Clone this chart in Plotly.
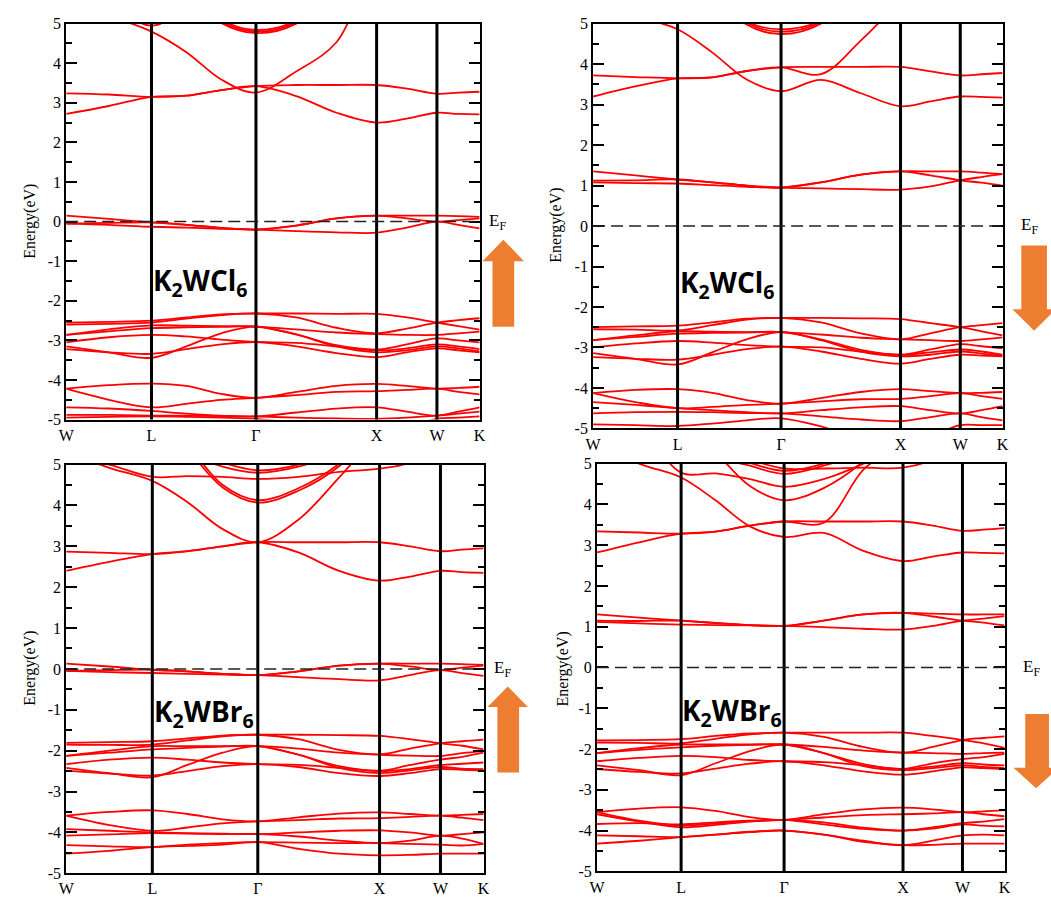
import plotly.graph_objects as go

FIG_W, FIG_H = 1051, 897

# ---------------- data ----------------
# k-path samples: W, mid, L, 1/3, 2/3, Γ, 1/3, 2/3, X, mid, W, mid, K
K_PATH = [0.0, 0.354, 0.707, 0.996, 1.285, 1.573, 1.906, 2.240, 2.573, 2.823, 3.073, 3.250, 3.427]
SYM_K = [0.0, 0.707, 1.573, 2.573, 3.073, 3.427]
SYM_LABELS = ["W", "L", "Γ", "X", "W", "K"]
Y_TICKS = [-5, -4, -3, -2, -1, 0, 1, 2, 3, 4, 5]
Y_TICK_TEXT = ["-5", "-4", "-3", "-2", "-1", "0", "1", "2", "3", "4", "5"]
COMPOUNDS = ["K<sub>2</sub>WCl<sub>6</sub>", "K<sub>2</sub>WCl<sub>6</sub>",
             "K<sub>2</sub>WBr<sub>6</sub>", "K<sub>2</sub>WBr<sub>6</sub>"]

# ---- K2WCl6 spin up ----
CL_UP_COND = [
    [3.24, 3.21, 3.15, 3.18, 3.32, 3.42, 3.45, 3.45, 3.45, 3.36, 3.23, 3.26, 3.28],
    [2.72, 2.92, 3.15, 3.18, 3.32, 3.42, 3.17, 2.75, 2.50, 2.60, 2.75, 2.72, 2.71],
    [5.60, 5.20, 4.80, 4.28, 3.59, 3.26, 3.79, 4.53, 6.50, 7.00, 7.00, 7.00, 7.00],
    [7.00, 7.00, 6.50, 5.80, 5.02, 4.76, 5.00, 5.90, 6.80, 7.00, 7.00, 7.00, 7.00],
    [7.00, 7.00, 6.50, 5.85, 5.06, 4.80, 5.04, 5.95, 6.80, 7.00, 7.00, 7.00, 7.00],
    [7.00, 7.00, 6.50, 5.90, 5.10, 4.84, 5.08, 6.00, 6.80, 7.00, 7.00, 7.00, 7.00],
    [6.00, 5.50, 4.95, 5.40, 6.00, 6.50, 7.00, 7.00, 7.00, 7.00, 7.00, 7.00, 7.00],
]
CL_UP_FERMI = [
    [0.15, 0.07, -0.02, -0.08, -0.16, -0.20, -0.10, 0.08, 0.15, 0.15, 0.15, 0.14, 0.12],
    [-0.05, -0.03, -0.02, -0.08, -0.16, -0.20, -0.10, 0.08, 0.15, 0.08, 0.00, 0.04, 0.08],
    [-0.05, -0.08, -0.13, -0.15, -0.18, -0.20, -0.24, -0.27, -0.28, -0.15, 0.00, -0.08, -0.17],
]
CL_UP_VAL = [
    [-2.55, -2.53, -2.50, -2.42, -2.34, -2.32, -2.32, -2.33, -2.33, -2.42, -2.55, -2.64, -2.73],
    [-2.60, -2.58, -2.55, -2.45, -2.36, -2.32, -2.42, -2.68, -2.82, -2.70, -2.55, -2.49, -2.44],
    [-2.86, -2.72, -2.62, -2.63, -2.64, -2.65, -2.72, -2.80, -2.84, -2.86, -2.86, -2.82, -2.78],
    [-2.86, -2.77, -2.69, -2.67, -2.66, -2.65, -2.85, -3.12, -3.23, -3.10, -2.95, -3.00, -3.05],
    [-3.05, -2.92, -2.86, -2.90, -2.98, -3.04, -3.06, -3.15, -3.25, -3.20, -3.10, -3.15, -3.22],
    [-3.15, -3.30, -3.44, -3.15, -2.82, -2.65, -2.85, -3.15, -3.30, -3.25, -3.15, -3.20, -3.28],
    [-3.22, -3.30, -3.34, -3.22, -3.10, -3.04, -3.15, -3.32, -3.42, -3.30, -3.20, -3.25, -3.30],
]
CL_UP_LOW = [
    [-4.22, -4.13, -4.09, -4.15, -4.35, -4.45, -4.30, -4.15, -4.10, -4.15, -4.22, -4.20, -4.17],
    [-4.22, -4.50, -4.69, -4.60, -4.50, -4.45, -4.38, -4.30, -4.28, -4.25, -4.22, -4.30, -4.36],
    [-4.69, -4.72, -4.78, -4.85, -4.90, -4.92, -4.82, -4.72, -4.69, -4.80, -4.90, -4.80, -4.69],
    [-4.88, -4.88, -4.90, -4.90, -4.91, -4.92, -4.95, -4.97, -4.98, -4.95, -4.90, -4.85, -4.80],
    [-4.95, -4.93, -4.92, -4.93, -4.95, -4.98, -5.10, -5.30, -5.40, -5.20, -4.98, -4.95, -4.92],
]

# ---- K2WCl6 spin down ----
CL_DN_COND = [
    [3.72, 3.68, 3.65, 3.67, 3.83, 3.92, 3.93, 3.93, 3.93, 3.82, 3.72, 3.75, 3.78],
    [3.20, 3.45, 3.65, 3.67, 3.83, 3.92, 3.75, 4.58, 5.60, 6.50, 7.00, 7.00, 7.00],
    [5.60, 5.20, 4.86, 4.29, 3.62, 3.33, 3.61, 3.28, 2.96, 3.08, 3.20, 3.19, 3.17],
    [7.00, 7.00, 6.50, 5.80, 4.98, 4.74, 5.00, 5.90, 6.80, 7.00, 7.00, 7.00, 7.00],
    [7.00, 7.00, 6.50, 5.85, 5.02, 4.80, 5.04, 5.95, 6.80, 7.00, 7.00, 7.00, 7.00],
    [7.00, 7.00, 6.50, 5.90, 5.06, 4.86, 5.08, 6.00, 6.80, 7.00, 7.00, 7.00, 7.00],
]
CL_DN_FERMI = [
    [1.35, 1.25, 1.15, 1.08, 1.00, 0.95, 1.08, 1.27, 1.35, 1.35, 1.35, 1.32, 1.28],
    [1.12, 1.13, 1.15, 1.08, 1.00, 0.95, 0.93, 0.91, 0.90, 0.98, 1.13, 1.21, 1.28],
    [1.08, 1.06, 1.05, 1.01, 0.97, 0.95, 1.08, 1.27, 1.35, 1.25, 1.13, 1.07, 1.00],
]
CL_DN_VAL = [
    [-2.50, -2.48, -2.46, -2.38, -2.29, -2.27, -2.27, -2.28, -2.30, -2.40, -2.50, -2.60, -2.70],
    [-2.55, -2.56, -2.58, -2.45, -2.31, -2.27, -2.38, -2.65, -2.80, -2.65, -2.50, -2.45, -2.40],
    [-2.82, -2.70, -2.60, -2.61, -2.62, -2.62, -2.68, -2.76, -2.80, -2.82, -2.84, -2.80, -2.75],
    [-2.82, -2.74, -2.66, -2.64, -2.63, -2.62, -2.80, -3.06, -3.18, -3.05, -2.92, -2.97, -3.02],
    [-3.00, -2.90, -2.84, -2.88, -2.94, -2.98, -3.00, -3.10, -3.18, -3.12, -3.05, -3.10, -3.18],
    [-3.14, -3.28, -3.42, -3.12, -2.80, -2.62, -2.82, -3.10, -3.22, -3.18, -3.10, -3.15, -3.20],
    [-3.24, -3.28, -3.30, -3.18, -3.04, -2.98, -3.10, -3.28, -3.40, -3.28, -3.18, -3.20, -3.22],
]
CL_DN_LOW = [
    [-4.13, -4.05, -4.03, -4.12, -4.30, -4.39, -4.25, -4.10, -4.03, -4.08, -4.13, -4.12, -4.10],
    [-4.13, -4.35, -4.50, -4.47, -4.42, -4.39, -4.33, -4.28, -4.27, -4.20, -4.13, -4.20, -4.27],
    [-4.35, -4.42, -4.50, -4.55, -4.60, -4.63, -4.55, -4.48, -4.45, -4.55, -4.63, -4.55, -4.45],
    [-4.63, -4.60, -4.59, -4.60, -4.62, -4.63, -4.70, -4.78, -4.82, -4.72, -4.63, -4.72, -4.80],
    [-4.90, -4.92, -4.94, -4.88, -4.80, -4.75, -4.95, -5.25, -5.40, -5.20, -4.92, -4.92, -4.92],
]

# ---- K2WBr6 spin up ----
BR_UP_COND = [
    [2.87, 2.84, 2.81, 2.88, 3.00, 3.10, 3.10, 3.10, 3.10, 3.00, 2.88, 2.92, 2.95],
    [2.40, 2.62, 2.81, 2.88, 3.00, 3.10, 2.85, 2.40, 2.16, 2.26, 2.40, 2.37, 2.35],
    [5.30, 4.92, 4.60, 4.08, 3.42, 3.10, 3.65, 4.68, 5.80, 6.50, 7.00, 7.00, 7.00],
    [7.00, 7.00, 6.50, 5.40, 4.44, 4.07, 4.36, 4.96, 6.00, 7.00, 7.00, 7.00, 7.00],
    [7.00, 7.00, 6.50, 5.50, 4.50, 4.13, 4.42, 5.02, 6.00, 7.00, 7.00, 7.00, 7.00],
    [5.30, 5.00, 4.70, 4.72, 4.70, 4.65, 4.70, 4.82, 4.90, 5.05, 5.50, 5.60, 5.70],
    [7.00, 7.00, 6.00, 5.30, 4.95, 4.80, 4.95, 5.30, 6.00, 7.00, 7.00, 7.00, 7.00],
    [7.00, 7.00, 6.00, 5.40, 5.05, 4.86, 5.00, 5.40, 6.00, 7.00, 7.00, 7.00, 7.00],
]
BR_UP_FERMI = [
    [0.13, 0.06, -0.02, -0.06, -0.12, -0.15, -0.06, 0.08, 0.13, 0.13, 0.13, 0.12, 0.10],
    [-0.05, -0.03, -0.02, -0.06, -0.12, -0.15, -0.06, 0.08, 0.13, 0.06, -0.03, 0.03, 0.08],
    [-0.05, -0.08, -0.10, -0.12, -0.14, -0.15, -0.20, -0.25, -0.28, -0.15, -0.03, -0.10, -0.17],
]
BR_UP_VAL = [
    [-1.81, -1.79, -1.77, -1.70, -1.63, -1.61, -1.61, -1.62, -1.64, -1.72, -1.82, -1.88, -1.97],
    [-1.85, -1.86, -1.85, -1.75, -1.65, -1.61, -1.72, -1.98, -2.09, -1.95, -1.82, -1.77, -1.73],
    [-2.13, -2.00, -1.89, -1.89, -1.89, -1.89, -1.95, -2.05, -2.10, -2.12, -2.13, -2.06, -2.01],
    [-2.13, -2.05, -1.97, -1.93, -1.90, -1.89, -2.10, -2.38, -2.49, -2.35, -2.22, -2.15, -2.05],
    [-2.33, -2.22, -2.17, -2.22, -2.29, -2.33, -2.35, -2.42, -2.50, -2.45, -2.35, -2.32, -2.29],
    [-2.42, -2.55, -2.65, -2.35, -2.05, -1.89, -2.10, -2.42, -2.55, -2.48, -2.40, -2.44, -2.45],
    [-2.49, -2.56, -2.61, -2.50, -2.38, -2.33, -2.40, -2.55, -2.62, -2.55, -2.45, -2.47, -2.49],
]
BR_UP_LOW = [
    [-3.59, -3.50, -3.46, -3.55, -3.68, -3.73, -3.63, -3.54, -3.51, -3.55, -3.59, -3.57, -3.55],
    [-3.59, -3.82, -3.96, -3.88, -3.78, -3.73, -3.70, -3.66, -3.65, -3.62, -3.59, -3.64, -3.70],
    [-3.92, -3.96, -4.00, -4.02, -4.03, -4.04, -4.00, -3.96, -3.95, -4.00, -4.08, -4.04, -4.00],
    [-4.08, -4.05, -4.02, -4.03, -4.04, -4.04, -4.10, -4.20, -4.26, -4.20, -4.08, -4.15, -4.28],
    [-4.31, -4.34, -4.36, -4.30, -4.26, -4.24, -4.25, -4.26, -4.26, -4.28, -4.30, -4.32, -4.28],
    [-4.52, -4.45, -4.36, -4.33, -4.30, -4.24, -4.40, -4.52, -4.56, -4.55, -4.52, -4.52, -4.52],
]

# ---- K2WBr6 spin down ----
BR_DN_COND = [
    [3.34, 3.31, 3.28, 3.33, 3.48, 3.58, 3.58, 3.58, 3.58, 3.48, 3.35, 3.38, 3.42],
    [2.82, 3.07, 3.28, 3.33, 3.48, 3.58, 3.55, 4.85, 5.60, 6.50, 7.00, 7.00, 7.00],
    [5.50, 5.00, 4.66, 4.10, 3.46, 3.20, 3.30, 2.86, 2.61, 2.72, 2.82, 2.81, 2.80],
    [7.00, 7.00, 6.20, 5.30, 4.45, 4.10, 4.40, 5.05, 6.00, 7.00, 7.00, 7.00, 7.00],
    [7.00, 6.00, 4.78, 4.76, 4.62, 4.43, 4.62, 5.00, 5.50, 6.00, 7.00, 7.00, 7.00],
    [7.00, 7.00, 6.00, 5.20, 4.95, 4.75, 4.95, 5.30, 6.00, 7.00, 7.00, 7.00, 7.00],
    [7.00, 7.00, 6.00, 5.30, 5.02, 4.82, 5.00, 5.40, 6.00, 7.00, 7.00, 7.00, 7.00],
    [7.00, 7.00, 6.00, 5.40, 5.10, 4.88, 4.88, 4.90, 4.90, 5.10, 5.60, 5.70, 5.80],
]
BR_DN_FERMI = [
    [1.30, 1.22, 1.15, 1.09, 1.04, 1.02, 1.15, 1.30, 1.34, 1.32, 1.30, 1.30, 1.30],
    [1.15, 1.14, 1.15, 1.09, 1.04, 1.02, 0.99, 0.95, 0.93, 1.02, 1.15, 1.20, 1.26],
    [1.12, 1.08, 1.05, 1.04, 1.03, 1.02, 1.15, 1.30, 1.34, 1.25, 1.15, 1.10, 1.03],
]
BR_DN_VAL = [
    [-1.79, -1.78, -1.76, -1.68, -1.62, -1.60, -1.60, -1.60, -1.60, -1.68, -1.78, -1.86, -1.97],
    [-1.84, -1.85, -1.86, -1.75, -1.64, -1.60, -1.70, -1.95, -2.09, -1.95, -1.78, -1.73, -1.69],
    [-2.10, -1.98, -1.89, -1.89, -1.89, -1.89, -1.95, -2.04, -2.09, -2.10, -2.12, -2.10, -2.09],
    [-2.10, -2.02, -1.96, -1.92, -1.90, -1.89, -2.10, -2.37, -2.49, -2.35, -2.25, -2.20, -2.12],
    [-2.30, -2.22, -2.17, -2.20, -2.27, -2.30, -2.32, -2.40, -2.49, -2.43, -2.35, -2.38, -2.40],
    [-2.40, -2.52, -2.64, -2.35, -2.05, -1.89, -2.10, -2.42, -2.52, -2.47, -2.40, -2.44, -2.47],
    [-2.49, -2.56, -2.60, -2.48, -2.36, -2.30, -2.40, -2.55, -2.63, -2.55, -2.45, -2.47, -2.49],
]
BR_DN_LOW = [
    [-3.55, -3.46, -3.43, -3.52, -3.67, -3.74, -3.60, -3.48, -3.44, -3.48, -3.55, -3.53, -3.50],
    [-3.55, -3.76, -3.88, -3.83, -3.77, -3.74, -3.68, -3.62, -3.60, -3.58, -3.55, -3.60, -3.65],
    [-3.60, -3.78, -3.92, -3.86, -3.78, -3.74, -3.80, -3.93, -4.00, -3.92, -3.82, -3.78, -3.72],
    [-3.84, -3.82, -3.85, -3.80, -3.76, -3.74, -3.85, -3.96, -4.00, -3.95, -3.85, -3.88, -3.90],
    [-4.12, -4.14, -4.16, -4.10, -4.03, -4.00, -4.10, -4.25, -4.36, -4.25, -4.12, -4.10, -4.12],
    [-4.32, -4.25, -4.16, -4.10, -4.04, -4.00, -4.10, -4.28, -4.36, -4.35, -4.32, -4.32, -4.32],
]

PANEL_BANDS = [
    CL_UP_COND + CL_UP_FERMI + CL_UP_VAL + CL_UP_LOW,
    CL_DN_COND + CL_DN_FERMI + CL_DN_VAL + CL_DN_LOW,
    BR_UP_COND + BR_UP_FERMI + BR_UP_VAL + BR_UP_LOW,
    BR_DN_COND + BR_DN_FERMI + BR_DN_VAL + BR_DN_LOW,
]

# ---------------- layout (pixel geometry) ----------------
# (left, right, top, bottom) of each plot area in pixels
PANEL_BOX = [(59, 478, 16, 421), (593, 1008, 16, 430), (59, 482, 467, 885), (597, 1010, 466, 883)]
YTITLE_POS = [(22, 218), (555, 222), (22, 675), (562, 676)]
EF_POS = [(485, 219), (1025, 223), (491, 676), (1027, 675)]
LABEL_POS = [(145, 280), (679, 282), (146, 721), (681, 720)]
ARROWS = [
    ("up", 491, 513, 481, 523, 237, 259, 326),
    ("down", 1027, 1053, 1018, 1062, 330, 308, 243),
    ("up", 496, 518, 486, 527, 694, 715, 782),
    ("down", 1031, 1055, 1019, 1065, 798, 777, 722),
]
ORANGE = "#ED7D31"
SERIF = "Liberation Serif"


def px(x):
    return x / FIG_W


def py(y):
    return 1 - y / FIG_H


fig = go.Figure()
layout = dict(width=FIG_W, height=FIG_H, margin=dict(l=0, r=0, t=0, b=0),
              paper_bgcolor="white", plot_bgcolor="white", showlegend=False)
shapes, annotations = [], []

for i, bands in enumerate(PANEL_BANDS):
    n = i + 1
    xa, ya = ("x" if n == 1 else f"x{n}"), ("y" if n == 1 else f"y{n}")
    for b in bands:
        fig.add_trace(go.Scatter(x=K_PATH, y=b, xaxis=xa, yaxis=ya, mode="lines",
                                 line=dict(color="#ff0000", width=1.8, shape="spline", smoothing=1.0),
                                 hoverinfo="skip", showlegend=False))
    l, r, t, bt = PANEL_BOX[i]
    layout["xaxis" if n == 1 else f"xaxis{n}"] = dict(
        domain=[px(l), px(r)], anchor=ya, range=[SYM_K[0], SYM_K[-1]],
        tickmode="array", tickvals=SYM_K, ticktext=SYM_LABELS, ticks="",
        tickfont=dict(family=SERIF, size=16, color="black"),
        showline=True, mirror=True, linecolor="black", linewidth=2,
        showgrid=False, zeroline=False)
    layout["yaxis" if n == 1 else f"yaxis{n}"] = dict(
        domain=[py(bt), py(t)], anchor=xa, range=[-5, 5],
        tickmode="array", tickvals=Y_TICKS, ticktext=Y_TICK_TEXT,
        ticks="inside", ticklen=11, tickwidth=2, tickcolor="black",
        minor=dict(ticks="inside", dtick=0.5, ticklen=6, tickwidth=1.5, tickcolor="black"),
        tickfont=dict(family=SERIF, size=16, color="black"),
        showline=True, mirror="ticks", linecolor="black", linewidth=2,
        showgrid=False, zeroline=False)
    # high-symmetry vertical lines
    for kv in SYM_K[1:-1]:
        shapes.append(dict(type="line", xref=xa, yref=f"{ya} domain", x0=kv, x1=kv, y0=0, y1=1,
                           line=dict(color="black", width=3), layer="above"))
    # Fermi level
    shapes.append(dict(type="line", xref=f"{xa} domain", yref=ya, x0=0, x1=1, y0=0, y1=0,
                       line=dict(color="#222222", width=1.5, dash="12px,6px"), layer="above"))
    # labels
    tx, ty = YTITLE_POS[i]
    annotations.append(dict(x=px(tx), y=py(ty), xref="paper", yref="paper", text="Energy(eV)",
                            textangle=-90, showarrow=False, xanchor="center", yanchor="middle",
                            font=dict(family=SERIF, size=16, color="black")))
    ex, ey = EF_POS[i]
    annotations.append(dict(x=px(ex), y=py(ey), xref="paper", yref="paper", text="E<sub>F</sub>",
                            showarrow=False, xanchor="left", yanchor="middle",
                            font=dict(family=SERIF, size=17, color="black")))
    lx, ly = LABEL_POS[i]
    annotations.append(dict(x=px(lx), y=py(ly), xref="paper", yref="paper", text=f"<b>{COMPOUNDS[i]}</b>",
                            showarrow=False, xanchor="left", yanchor="middle",
                            font=dict(family="Open Sans", size=28, color="black")))
    # spin arrows
    d, s0, s1, h0, h1, tip_y, base_y, end_y = ARROWS[i]
    cx = (h0 + h1) / 2
    pts = [(s0, end_y), (s0, base_y), (h0, base_y), (cx, tip_y), (h1, base_y), (s1, base_y), (s1, end_y)]
    path = "M " + " L ".join(f"{px(a):.5f},{py(b):.5f}" for a, b in pts) + " Z"
    shapes.append(dict(type="path", xref="paper", yref="paper", path=path,
                       fillcolor=ORANGE, line=dict(width=0), layer="above"))

layout["shapes"] = shapes
layout["annotations"] = annotations
fig.update_layout(**layout)
fig.write_html("out.html")
